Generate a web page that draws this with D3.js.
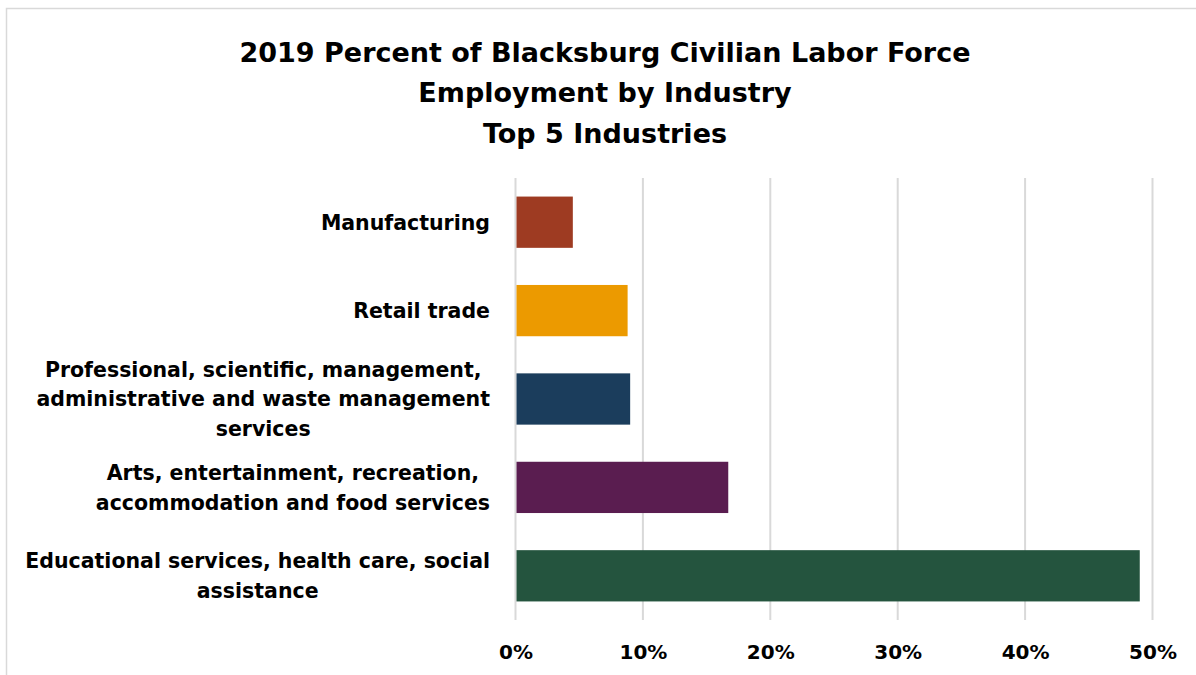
<!DOCTYPE html>
<html>
<head>
<meta charset="utf-8">
<script src="https://cdn.jsdelivr.net/npm/d3@7"></script>
<style>
  html, body { margin: 0; padding: 0; background: #fff; }
  svg { display: block; }
</style>
</head>
<body>
<svg id="chart" width="1196" height="675"></svg>
<script>
// Industries, top to bottom ("|" marks a line break in the label)
const categories = [
  "Manufacturing",
  "Retail trade",
  "Professional, scientific, management,|administrative and waste management|services",
  "Arts, entertainment, recreation,|accommodation and food services",
  "Educational services, health care, social|assistance"
];
const values = [4.5, 8.8, 9.0, 16.7, 49.0];
const colors = ["#9e3b22", "#ec9a00", "#1b3d5c", "#5a1d50", "#24543e"];
const tickValues = [0, 10, 20, 30, 40, 50];
const titleLines = [
  "2019 Percent of Blacksburg Civilian Labor Force",
  "Employment by Industry",
  "Top 5 Industries"
];

const svg = d3.select("#chart");
const W = 1196, H = 675;
const font = "'DejaVu Sans', sans-serif";

// outer frame
svg.append("rect")
  .attr("x", 6.5).attr("y", 8.5)
  .attr("width", W + 10).attr("height", H + 10)
  .attr("fill", "#fff").attr("stroke", "#d9d9d9").attr("stroke-width", 1.5);

// title
svg.append("g").selectAll("text").data(titleLines).join("text")
  .attr("x", 605).attr("y", (d, i) => 61.5 + i * 40.5)
  .attr("text-anchor", "middle")
  .attr("font-family", font)
  .attr("font-weight", "bold").attr("font-size", 27)
  .attr("fill", "#000")
  .text(d => d);

const x = d3.scaleLinear().domain([0, 50]).range([515.5, 1152.5]);
const y = d3.scaleBand().domain(categories).range([178, 620]).paddingInner(0.42).paddingOuter(0.21);

// vertical gridlines
svg.append("g").selectAll("line").data(tickValues).join("line")
  .attr("x1", d => x(d)).attr("x2", d => x(d))
  .attr("y1", 178).attr("y2", 620)
  .attr("stroke", "#d9d9d9").attr("stroke-width", 2);

// bars
svg.append("g").selectAll("rect").data(categories).join("rect")
  .attr("x", x(0) + 1)
  .attr("y", d => y(d))
  .attr("width", (d, i) => x(values[i]) - x(0) - 1)
  .attr("height", y.bandwidth())
  .attr("fill", (d, i) => colors[i]);

// x axis tick labels
const xAxis = d3.axisBottom(x).tickValues(tickValues).tickFormat(d => d + "%").tickSize(0).tickPadding(0);
const gx = svg.append("g").attr("transform", "translate(0,652)").call(xAxis);
gx.select(".domain").remove();
gx.selectAll("text")
  .attr("dy", "0.36em")
  .attr("font-family", font).attr("font-weight", "bold")
  .attr("font-size", 20).attr("fill", "#000");

// category labels: lines centred on each other, block right-aligned beside the bars
const lineH = 29.5, rightEdge = 490;
const lab = svg.append("g").selectAll("text").data(categories).join("text")
  .attr("text-anchor", "middle")
  .attr("font-family", font).attr("font-weight", "bold")
  .attr("font-size", 20.5).attr("fill", "#000");
lab.each(function(d) {
  const lines = d.split("|");
  const cy = y(d) + y.bandwidth() / 2;
  const y0 = cy - (lines.length - 1) * lineH / 2;
  const t = d3.select(this);
  const spans = t.selectAll("tspan").data(lines).join("tspan")
    .attr("y", (l, i) => y0 + i * lineH)
    .attr("dy", "0.36em")
    .text(l => l);
  const maxW = d3.max(spans.nodes(), n => n.getComputedTextLength());
  spans.attr("x", rightEdge - maxW / 2);
});
</script>
</body>
</html>
